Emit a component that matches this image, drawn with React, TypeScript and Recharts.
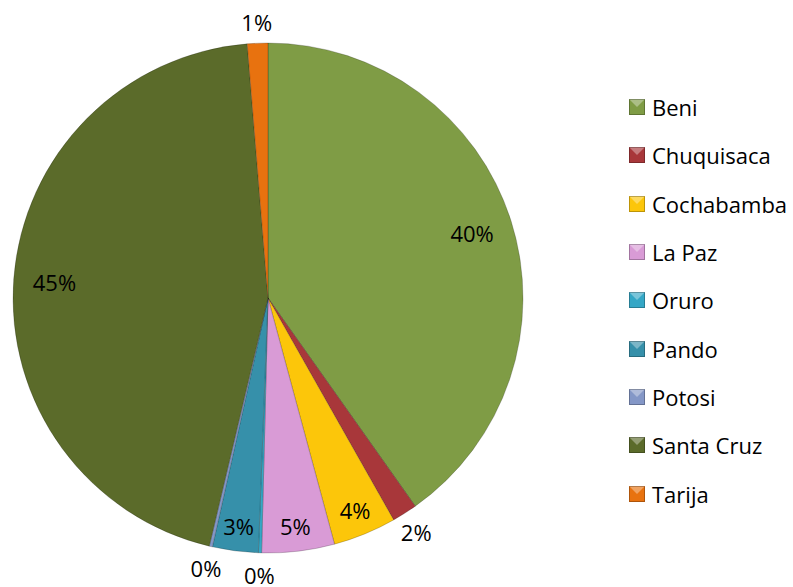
import { PieChart, Pie, Cell, Legend } from "recharts";

const departments = [
  "Beni",
  "Chuquisaca",
  "Cochabamba",
  "La Paz",
  "Oruro",
  "Pando",
  "Potosi",
  "Santa Cruz",
  "Tarija",
];
const shares = [40.2, 1.6, 4.0, 4.6, 0.2, 2.9, 0.2, 45.0, 1.3];
const colors = [
  "#7f9c45",
  "#a8373a",
  "#fcc60a",
  "#d99bd6",
  "#35a7c6",
  "#3690aa",
  "#8497c7",
  "#5b6b2a",
  "#e8720f",
];

const data = departments.map((name, i) => ({ name, value: shares[i] }));

const RADIAN = Math.PI / 180;
const FONT = "'Open Sans', sans-serif";

function renderLabel(props: any) {
  const { cx, cy, midAngle, outerRadius, percent } = props;
  const p = percent * 100;
  // small slices get their label outside, big ones sit further in
  let f = 0.9;
  if (p < 2.5) f = 1.085;
  else if (p >= 10) f = 0.84;
  const r = outerRadius * f;
  const x = cx + r * Math.cos(-midAngle * RADIAN);
  const y = cy + r * Math.sin(-midAngle * RADIAN);
  return (
    <text
      x={x}
      y={y}
      fill="#000"
      textAnchor="middle"
      dominantBaseline="central"
      style={{ fontFamily: FONT, fontSize: 22 }}
    >
      {Math.round(p) + "%"}
    </text>
  );
}

function LegendList() {
  return (
    <div style={{ fontFamily: FONT, fontSize: 22, color: "#000" }}>
      {departments.map((d, i) => (
        <div
          key={d}
          style={{ display: "flex", alignItems: "center", height: 48.3 }}
        >
          <svg width={16} height={16} style={{ marginRight: 7 }}>
            <rect x={0} y={0} width={16} height={16} fill={colors[i]} />
            <polygon points="0,0 16,0 8,8" fill="rgba(255,255,255,0.35)" />
            <rect
              x={0.5}
              y={0.5}
              width={15}
              height={15}
              fill="none"
              stroke="rgba(0,0,0,0.25)"
            />
          </svg>
          <span>{d}</span>
        </div>
      ))}
    </div>
  );
}

export default function App() {
  return (
    <div
      style={{
        position: "absolute",
        left: 0,
        top: 0,
        width: 793,
        height: 587,
        background: "#fff",
      }}
    >
      <PieChart
        width={793}
        height={587}
        margin={{ top: 0, right: 0, bottom: 0, left: 0 }}
      >
        <Pie
          data={data}
          dataKey="value"
          nameKey="name"
          cx={268}
          cy={298}
          outerRadius={255}
          startAngle={90}
          endAngle={-270}
          stroke="rgba(0,0,0,0.2)"
          strokeWidth={1}
          label={renderLabel}
          labelLine={false}
          isAnimationActive={false}
        >
          {data.map((d, i) => (
            <Cell key={d.name} fill={colors[i]} />
          ))}
        </Pie>
        <Legend
          layout="vertical"
          content={() => <LegendList />}
          wrapperStyle={{ left: 629, top: 83, width: 164 }}
        />
      </PieChart>
    </div>
  );
}
